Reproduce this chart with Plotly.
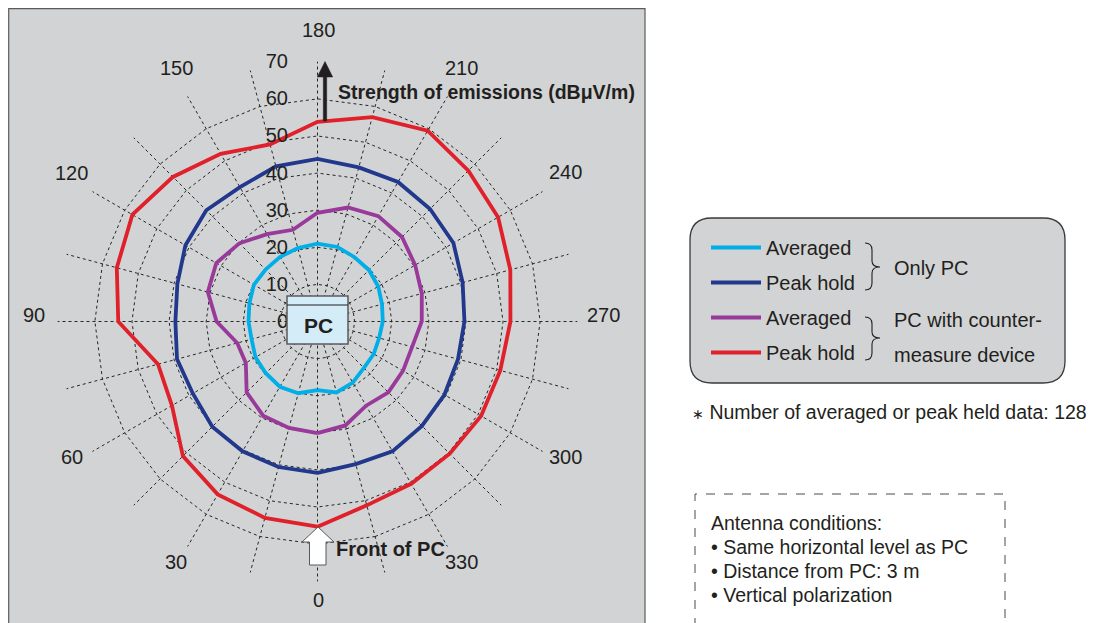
import math
import plotly.graph_objects as go

# ---------------- data ----------------
angles = [str(a) for a in range(0, 360, 15)]
angle_labels = [a if int(a) % 30 == 0 else "" for a in angles]

only_pc_avg = [18.5, 20.0, 20.3, 19.7, 19.3, 18.4, 18.6, 19.0, 19.8, 19.8, 20.1, 20.5,
               21.0, 20.8, 20.0, 19.6, 18.9, 18.0, 17.6, 17.2, 17.5, 17.7, 19.0, 19.8]
only_pc_peak = [40.8, 40.6, 40.4, 40.1, 38.8, 39.2, 38.3, 39.1, 41.1, 42.4, 41.8, 43.3,
                43.8, 43.0, 43.4, 42.9, 42.3, 40.5, 39.6, 39.2, 39.5, 39.8, 40.4, 39.8]
cm_avg = [30.1, 29.7, 29.3, 27.0, 22.3, 22.4, 27.2, 30.6, 31.5, 29.8, 27.2, 25.6,
          29.3, 31.8, 32.8, 32.2, 30.4, 29.1, 28.1, 26.4, 26.6, 27.0, 26.2, 29.0]
cm_peak = [55.3, 54.8, 53.8, 51.3, 45.3, 44.5, 53.7, 56.0, 57.6, 55.1, 52.2, 49.4,
           53.8, 57.0, 59.4, 57.5, 56.2, 53.8, 52.0, 51.0, 50.9, 50.4, 50.5, 51.3]

series_names = ["Averaged", "Peak hold", "Averaged", "Peak hold"]
series_colors = ["#00aee8", "#22388c", "#99399a", "#e0202a"]
series_values = [only_pc_avg, only_pc_peak, cm_avg, cm_peak]

radial_ticks = list(range(0, 80, 10))
R_MAX = 70

# ---------------- figure ----------------
# the page body has an 8px margin, so the figure is drawn 8px in from the corner
OFF = 8
W, H = 1110 - OFF, 623 - OFF
FONT = "Liberation Sans, Arial, Helvetica, sans-serif"
TXT = "#231f20"


def X(px):
    return (px - OFF) / W


def Y(py):
    return 1 - (py - OFF) / H


fig = go.Figure()
for name, col, vals in zip(series_names, series_colors, series_values):
    fig.add_trace(go.Scatterpolar(
        r=vals + [vals[0]], theta=angles + [angles[0]],
        mode="lines", name=name, legendgroup=name + col,
        line=dict(color=col, width=3.8),
    ))

cx, cy, R = 317.5, 321.5, 259.8
fig.update_layout(
    width=W, height=H,
    margin=dict(l=0, r=0, t=0, b=0),
    paper_bgcolor="white",
    font=dict(family=FONT, color=TXT, size=20),
    polar=dict(
        domain=dict(x=[X(cx - R), X(cx + R)], y=[Y(cy + R), Y(cy - R)]),
        bgcolor="rgba(0,0,0,0)",
        gridshape="linear",
        angularaxis=dict(
            type="category", categoryarray=angles,
            rotation=270, direction="clockwise",
            tickmode="array", tickvals=angles, ticktext=angle_labels,
            showticklabels=False,
            showline=False, showgrid=True,
            gridcolor="#262626", griddash="dot", gridwidth=1,
            ticks="",
        ),
        radialaxis=dict(
            range=[0, R_MAX + 0.02], tickmode="array", tickvals=radial_ticks,
            angle=90, side="counterclockwise",
            showline=False, showgrid=True,
            gridcolor="#262626", griddash="dot", gridwidth=1,
            ticks="outside", ticklen=22, tickcolor="rgba(0,0,0,0)",
            tickangle=90,
            tickfont=dict(size=20, color=TXT, family=FONT),
        ),
    ),
    showlegend=True,
    legend=dict(
        x=X(706), y=Y(228), xanchor="left", yanchor="top",
        bgcolor="rgba(0,0,0,0)", borderwidth=0,
        font=dict(size=20, color=TXT, family=FONT),
        traceorder="grouped", tracegroupgap=6, itemwidth=50,
    ),
)

shapes = []
# gray panel
shapes.append(dict(type="rect", xref="paper", yref="paper",
                   x0=X(8.7), x1=X(645), y0=Y(650), y1=Y(8.7),
                   fillcolor="#d1d3d4", line=dict(color="#5a5b5d", width=1.2),
                   layer="below"))
# legend rounded box
x0, x1, y0, y1, rr = 690, 1065, 218, 383, 22
p = (f"M {X(x0+rr)},{Y(y0)} L {X(x1-rr)},{Y(y0)} Q {X(x1)},{Y(y0)} {X(x1)},{Y(y0+rr)} "
     f"L {X(x1)},{Y(y1-rr)} Q {X(x1)},{Y(y1)} {X(x1-rr)},{Y(y1)} "
     f"L {X(x0+rr)},{Y(y1)} Q {X(x0)},{Y(y1)} {X(x0)},{Y(y1-rr)} "
     f"L {X(x0)},{Y(y0+rr)} Q {X(x0)},{Y(y0)} {X(x0+rr)},{Y(y0)} Z")
shapes.append(dict(type="path", xref="paper", yref="paper", path=p,
                   fillcolor="#d1d3d4", line=dict(color="#3a3a3a", width=1.3),
                   layer="below"))


def brace(ya, yb, yt, xl=865, xm=872, xr=880):
    return (f"M {X(xl)},{Y(ya)} Q {X(xm)},{Y(ya)} {X(xm)},{Y(ya+7)} "
            f"L {X(xm)},{Y(yt-6)} Q {X(xm)},{Y(yt)} {X(xr)},{Y(yt)} "
            f"Q {X(xm)},{Y(yt)} {X(xm)},{Y(yt+6)} "
            f"L {X(xm)},{Y(yb-7)} Q {X(xm)},{Y(yb)} {X(xl)},{Y(yb)}")


for ya, yb, yt in [(243, 290, 267), (317, 360, 338)]:
    shapes.append(dict(type="path", xref="paper", yref="paper", path=brace(ya, yb, yt),
                       line=dict(color=TXT, width=1.1)))
# antenna dashed box
shapes.append(dict(type="rect", xref="paper", yref="paper",
                   x0=X(695), x1=X(1005), y0=Y(650), y1=Y(494),
                   line=dict(color="#4a4a4a", width=1, dash="dash")))
# PC box
shapes.append(dict(type="rect", xref="paper", yref="paper",
                   x0=X(287), x1=X(348), y0=Y(344), y1=Y(296),
                   fillcolor="#d4ebf8", line=dict(color="#5a5b5d", width=1.5)))
shapes.append(dict(type="line", xref="paper", yref="paper",
                   x0=X(287), x1=X(348), y0=Y(305), y1=Y(305),
                   line=dict(color="#231f20", width=1)))
# black arrow (strength of emissions)
bp = (f"M {X(323.3)},{Y(121)} L {X(326.7)},{Y(121)} L {X(326.7)},{Y(77)} "
      f"L {X(332.7)},{Y(77)} L {X(325)},{Y(61.5)} L {X(317.3)},{Y(77)} "
      f"L {X(323.3)},{Y(77)} Z")
shapes.append(dict(type="path", xref="paper", yref="paper", path=bp,
                   fillcolor="#231f20", line=dict(color="#231f20", width=0.5)))
# white arrow (front of PC)
wp = (f"M {X(309.5)},{Y(565)} L {X(326)},{Y(565)} L {X(326)},{Y(542)} "
      f"L {X(334)},{Y(542)} L {X(318)},{Y(527)} L {X(302)},{Y(542)} "
      f"L {X(309.5)},{Y(542)} Z")
shapes.append(dict(type="path", xref="paper", yref="paper", path=wp,
                   fillcolor="white", line=dict(color="#58595b", width=1)))
fig.update_layout(shapes=shapes)

ann = []


def text(x, y, s, size=20, bold=False, xanchor="left"):
    ann.append(dict(x=X(x), y=Y(y), xref="paper", yref="paper", text=(f"<b>{s}</b>" if bold else s),
                    showarrow=False, xanchor=xanchor, yanchor="middle",
                    font=dict(size=size, color=TXT, family=FONT)))


# angular labels: set on a ring just outside the outer grid, as in the reference
LAB_CX, LAB_CY, LAB_R = cx + 1.0, cy - 6.5, 285.0
for a, lab in zip(angles, angle_labels):
    if not lab:
        continue
    t = math.radians(float(a))
    lx = LAB_CX - LAB_R * math.sin(t)
    ly = LAB_CY + LAB_R * math.cos(t)
    text(lx, ly, lab, size=20, xanchor="center")

text(318, 325, "PC", size=21, bold=True, xanchor="center")
text(336, 92, "Strength of emissions (dBμV/m)", size=19.5, bold=True)
text(334, 549, "Front of PC", size=20, bold=True)
text(892, 268, "Only PC", size=20)
text(892, 320, "PC with counter-", size=20)
text(892, 355, "measure device", size=20)
text(690, 412, "<span style='font-size:14px'>∗</span> Number of averaged or peak held data: 128", size=19.5)
text(709, 523, "Antenna conditions:", size=19.5)
text(709, 547, "• Same horizontal level as PC", size=19.5)
text(709, 571, "• Distance from PC: 3 m", size=19.5)
text(709, 595, "• Vertical polarization", size=19.5)
fig.update_layout(annotations=ann)

fig.write_html("out.html")
